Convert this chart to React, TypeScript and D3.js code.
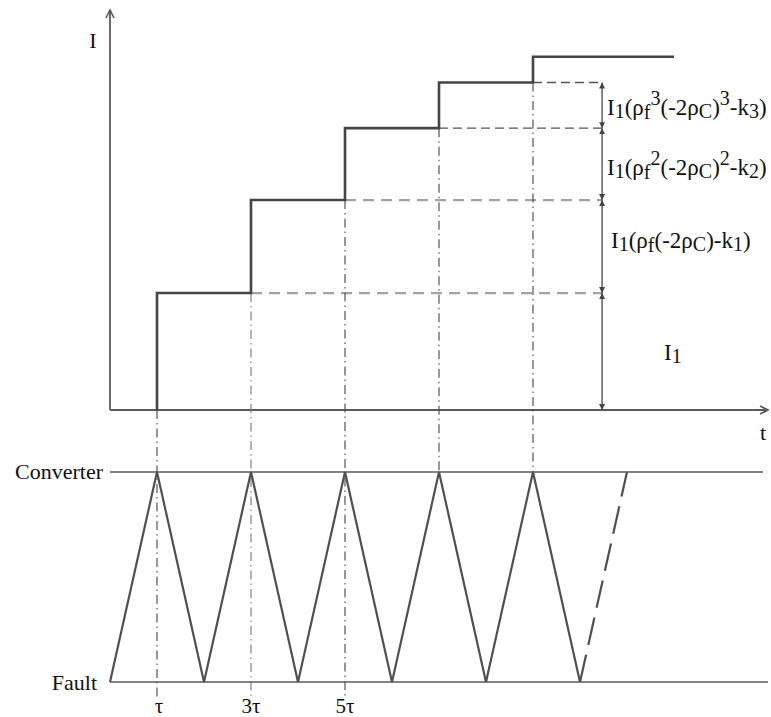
import React from "react";
import * as d3 from "d3";

// Switching instants (in units of τ) at which the fault current steps up
const stepTimes = [1, 3, 5, 7, 9];
// Current level after each step, in units of I1 (last one is the final level)
const stepLevels = [1, 1.795, 2.41, 2.8, 3.02];
// End of the drawn staircase (units of τ)
const stepEnd = 12;
// Reflection waveform vertices: time (τ) and state (1 = Converter, 0 = Fault)
const waveTimes = [0, 1, 2, 3, 4, 5, 6, 7, 8, 9, 10];
const waveStates = [0, 1, 0, 1, 0, 1, 0, 1, 0, 1, 0];
const waveDashed = [
  [10, 0],
  [11, 1],
];
// Tick labels on the time axis
const tickTimes = [1, 3, 5];
const tickLabels = ["τ", "3τ", "5τ"];

const W = 771;
const H = 717;
const FONT = "Liberation Serif, DejaVu Serif, serif";

const txt: React.CSSProperties = { fontFamily: FONT };

export default function App() {
  const x = d3.scaleLinear().domain([0, 14]).range([110, 768]);
  const y = d3.scaleLinear().domain([0, 3.42]).range([410, 10]);
  const yState = d3.scaleLinear().domain([0, 1]).range([682, 472]);
  const annT = 10.47;
  const xa = x(annT);

  // Staircase path
  const stair = d3.path();
  stair.moveTo(x(stepTimes[0]), y(0));
  stepTimes.forEach((t, i) => {
    stair.lineTo(x(t), y(stepLevels[i]));
    const next = i + 1 < stepTimes.length ? stepTimes[i + 1] : stepEnd;
    stair.lineTo(x(next), y(stepLevels[i]));
  });

  const wave = d3
    .line<number>()
    .x((_, i) => x(waveTimes[i]))
    .y((_, i) => yState(waveStates[i]));

  const dashLine = d3
    .line<number[]>()
    .x((d) => x(d[0]))
    .y((d) => yState(d[1]));

  // Interval bounds for the double-headed dimension arrows
  const bounds = [0, ...stepLevels.slice(0, 4)];

  const axisColor = "#5a5a5a";
  const lineColor = "#444";
  const fs = 23;
  const ss = 20;

  return (
    <svg width={W} height={H} style={{ display: "block", position: "absolute", left: 0, top: 0 }}>
      <defs>
        <marker id="tri" viewBox="0 0 10 10" refX="10" refY="5" markerWidth="6" markerHeight="7"
          markerUnits="userSpaceOnUse" orient="auto-start-reverse">
          <path d="M0,0 L10,5 L0,10 z" fill="#444" />
        </marker>
        <marker id="chev" viewBox="0 0 10 10" refX="9" refY="5" markerWidth="10" markerHeight="10"
          markerUnits="userSpaceOnUse" orient="auto">
          <path d="M1,1 L9,5 L1,9" fill="none" stroke={axisColor} strokeWidth="1.6" />
        </marker>
      </defs>
      <rect width={W} height={H} fill="#fff" />

      {/* Axes */}
      <line x1={x(0)} y1={y(0)} x2={x(0)} y2={y(3.42)} stroke={axisColor} strokeWidth={1.8} markerEnd="url(#chev)" />
      <line x1={x(0)} y1={y(0)} x2={x(14)} y2={y(0)} stroke={axisColor} strokeWidth={1.8} markerEnd="url(#chev)" />
      <text x={93} y={48} style={txt} fontSize={22} textAnchor="middle" fill="#111">I</text>
      <text x={763} y={440} style={txt} fontSize={22} textAnchor="middle" fill="#111">t</text>

      {/* Horizontal guides from each step to the dimension line */}
      {stepLevels.slice(0, 4).map((lv, i) => {
        const light = i < 2;
        return (
          <line key={"g" + i} x1={x(stepTimes[i + 1])} x2={xa} y1={y(lv)} y2={y(lv)}
            stroke={light ? "#a3a3a3" : "#555"} strokeWidth={light ? 2.2 : 1.3}
            strokeDasharray={light ? "11 7" : "9 5"} />
        );
      })}

      {/* Vertical dash-dot projections */}
      {stepTimes.map((t, i) => {
        const top = i === 0 ? y(0) : y(stepLevels[i - 1]);
        const bottom = i < 3 ? 697 : yState(1);
        return (
          <line key={"v" + i} x1={x(t)} x2={x(t)} y1={top} y2={bottom}
            stroke={i === 1 ? "#777" : "#444"} strokeWidth={1.1} strokeDasharray="9 4 1.5 4" />
        );
      })}

      {/* Staircase current */}
      <path d={stair.toString()} fill="none" stroke={lineColor} strokeWidth={2.6} />

      {/* Dimension arrows */}
      {bounds.slice(0, 4).map((b, i) => (
        <line key={"a" + i} x1={xa} x2={xa} y1={y(b)} y2={y(bounds[i + 1])}
          stroke="#555" strokeWidth={1.4} markerStart="url(#tri)" markerEnd="url(#tri)" />
      ))}

      {/* Dimension labels */}
      <text x={607} y={115} style={txt} fontSize={fs} fill="#111">
        I<tspan fontSize={ss} dy={3}>1</tspan>
        <tspan dy={-3}>(ρ</tspan>
        <tspan fontSize={ss} dy={4}>f</tspan>
        <tspan fontSize={ss} dy={-14}>3</tspan>
        <tspan dy={10}>(-2ρ</tspan>
        <tspan fontSize={ss} dy={3}>C</tspan>
        <tspan dy={-3}>)</tspan>
        <tspan fontSize={ss} dy={-10}>3</tspan>
        <tspan dy={10}>-k</tspan>
        <tspan fontSize={ss} dy={3}>3</tspan>
        <tspan dy={-3}>)</tspan>
      </text>
      <text x={607} y={175} style={txt} fontSize={fs} fill="#111">
        I<tspan fontSize={ss} dy={3}>1</tspan>
        <tspan dy={-3}>(ρ</tspan>
        <tspan fontSize={ss} dy={4}>f</tspan>
        <tspan fontSize={ss} dy={-14}>2</tspan>
        <tspan dy={10}>(-2ρ</tspan>
        <tspan fontSize={ss} dy={3}>C</tspan>
        <tspan dy={-3}>)</tspan>
        <tspan fontSize={ss} dy={-10}>2</tspan>
        <tspan dy={10}>-k</tspan>
        <tspan fontSize={ss} dy={3}>2</tspan>
        <tspan dy={-3}>)</tspan>
      </text>
      <text x={611} y={248} style={txt} fontSize={fs} fill="#111">
        I<tspan fontSize={ss} dy={3}>1</tspan>
        <tspan dy={-3}>(ρ</tspan>
        <tspan fontSize={ss} dy={4}>f</tspan>
        <tspan dy={-4}>(-2ρ</tspan>
        <tspan fontSize={ss} dy={3}>C</tspan>
        <tspan dy={-3}>)-k</tspan>
        <tspan fontSize={ss} dy={3}>1</tspan>
        <tspan dy={-3}>)</tspan>
      </text>
      <text x={664} y={360} style={txt} fontSize={fs} fill="#111">
        I<tspan fontSize={ss} dy={3}>1</tspan>
      </text>

      {/* Converter / Fault states */}
      <line x1={x(0)} x2={763} y1={yState(1)} y2={yState(1)} stroke={axisColor} strokeWidth={1.6} />
      <line x1={x(0)} x2={768} y1={yState(0)} y2={yState(0)} stroke={axisColor} strokeWidth={1.6} />
      <text x={103} y={479} style={txt} fontSize={22} textAnchor="end" fill="#111">Converter</text>
      <text x={97} y={690} style={txt} fontSize={22} textAnchor="end" fill="#111">Fault</text>

      <path d={wave(waveTimes) || ""} fill="none" stroke="#505050" strokeWidth={2.2} strokeLinejoin="miter" />
      <path d={dashLine(waveDashed) || ""} fill="none" stroke="#505050" strokeWidth={2.2} strokeDasharray="28 10" />

      {tickTimes.map((t, i) => (
        <text key={"t" + i} x={x(t) + (i === 0 ? 2 : 0)} y={713} style={txt} fontSize={21}
          textAnchor="middle" fill="#111">{tickLabels[i]}</text>
      ))}
    </svg>
  );
}
